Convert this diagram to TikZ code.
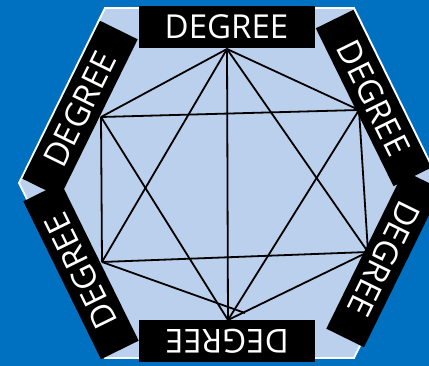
\documentclass[tikz,border=0pt]{standalone}
\usepackage{fontspec}
\newfontfamily\degreefont{Open Sans}
\definecolor{deepblue}{RGB}{0,112,192}
\definecolor{paleblue}{RGB}{187,208,236}

\begin{document}
\begin{tikzpicture}[x=1pt,y=-1pt,
  link/.style={black,line width=1.8pt},
  tag/.style={fill=black,text=white,minimum width=176pt,minimum height=42pt,
    inner sep=0pt,font=\degreefont\fontsize{33}{33}\selectfont}]
  % backdrop and frame
  \fill[deepblue] (0,0) rectangle (429,366);
  \useasboundingbox (0,0) rectangle (429,366);
  \clip (0,0) rectangle (429,366);
  \draw[white,line width=1.8pt,fill=paleblue]
    (105,8) -- (354,8) -- (440,183) -- (354,358) -- (105,358) -- (19,183) -- cycle;
  % graph
  \coordinate (top) at (227,49);
  \coordinate (lu) at (101,117);
  \coordinate (ru) at (359,110);
  \coordinate (ll) at (102,262);
  \coordinate (rl) at (368,252);
  \coordinate (bot) at (228,320);
  \coordinate (botx) at (245,313);
  \foreach \a/\b in {top/bot,top/lu,top/ru,top/ll,top/rl,lu/ru,lu/ll,ru/rl,ll/rl,bot/lu,bot/ru,bot/rl,ll/botx}
    \draw[link] (\a) -- (\b);
  % labels on the sides
  \foreach \n/\x/\y/\ang in {t/226.5/27/0,lu/80/109/63.8,ll/81/271/116.2,b/227/341/180,rl/384/259/243.8,ru/373.5/98/-63.8}
    \node[tag,rotate=\ang] (tag\n) at (\x,\y) {DEGREE};
\end{tikzpicture}
\end{document}
